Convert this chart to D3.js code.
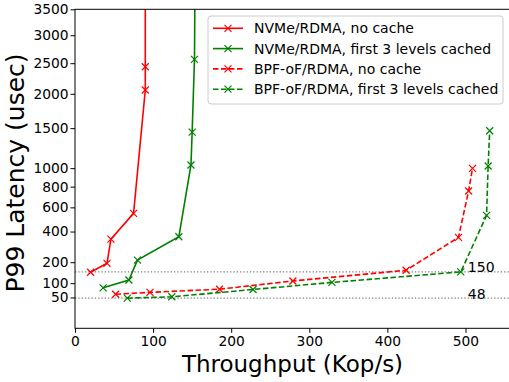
<!DOCTYPE html>
<html>
<head>
<meta charset="utf-8">
<script src="https://cdn.jsdelivr.net/npm/d3@7"></script>
<style>
  html, body { margin: 0; padding: 0; background: #fff; }
  svg { display: block; font-family: 'DejaVu Sans', sans-serif; }
</style>
</head>
<body>
<svg id="chart" width="509" height="382"></svg>
<script>
// throughput in Kop/s, latency in usec
const nvmeNoCacheX = [20, 41, 46, 75, 90, 90, 90];
const nvmeNoCacheY = [148, 194, 345, 547, 2060, 2440, 5000];
const nvmeCachedX = [36, 69, 80, 133, 148.5, 150, 153, 154];
const nvmeCachedY = [82, 113, 212, 362, 1036, 1446, 2566, 5000];
const bpfNoCacheX = [52, 96, 185, 279, 424, 491, 504, 509];
const bpfNoCacheY = [60, 66, 77, 109, 158, 357, 756, 997];
const bpfCachedX = [67, 124, 228, 329, 494, 527, 529, 531];
const bpfCachedY = [48, 52, 76, 103, 150, 530, 1024, 1465];

const seriesNames = [
  'NVMe/RDMA, no cache',
  'NVMe/RDMA, first 3 levels cached',
  'BPF-oF/RDMA, no cache',
  'BPF-oF/RDMA, first 3 levels cached'
];
const seriesColors = ['#ff0000', '#008000', '#ff0000', '#008000'];
const seriesDashed = [false, false, true, true];

const refValues = [150, 48];
const xTicks = [0, 100, 200, 300, 400, 500];
const yTicks = [50, 100, 200, 400, 600, 800, 1000, 1500, 2000, 2500, 3000, 3500];

const series = [
  [nvmeNoCacheX, nvmeNoCacheY],
  [nvmeCachedX, nvmeCachedY],
  [bpfNoCacheX, bpfNoCacheY],
  [bpfCachedX, bpfCachedY]
].map(([xs, ys], i) => ({
  name: seriesNames[i],
  color: seriesColors[i],
  dashed: seriesDashed[i],
  points: xs.map((x, j) => ({ x, y: ys[j] }))
}));

const svg = d3.select('#chart');
const margin = { left: 75, top: 9.3, bottom: 328.3, right: 510 };

const x = d3.scaleLinear().domain([0, 557]).range([margin.left, margin.right]);
const y = d3.scalePow().exponent(0.55).domain([0, 3500]).range([margin.bottom, margin.top]);

svg.append('defs').append('clipPath').attr('id', 'plotClip')
  .append('rect')
  .attr('x', margin.left)
  .attr('y', margin.top)
  .attr('width', margin.right - margin.left)
  .attr('height', margin.bottom - margin.top);

const plot = svg.append('g').attr('clip-path', 'url(#plotClip)');

// dotted reference lines
plot.selectAll('line.ref')
  .data(refValues)
  .enter()
  .append('line')
  .attr('class', 'ref')
  .attr('x1', margin.left)
  .attr('x2', margin.right)
  .attr('y1', d => y(d))
  .attr('y2', d => y(d))
  .attr('stroke', '#808080')
  .attr('stroke-width', 1.3)
  .attr('stroke-dasharray', '1.3,2');

svg.selectAll('text.ref')
  .data(refValues)
  .enter()
  .append('text')
  .attr('class', 'ref')
  .attr('x', x(503))
  .attr('y', d => y(d) + 0.5)
  .attr('font-size', 14)
  .attr('fill', '#000')
  .text(d => d);

const line = d3.line().x(d => x(d.x)).y(d => y(d.y));

const xMarker = (g, size) =>
  g.append('path')
    .attr('d', `M${-size},${-size}L${size},${size}M${-size},${size}L${size},${-size}`);

series.forEach(s => {
  plot.append('path')
    .datum(s.points)
    .attr('d', line)
    .attr('fill', 'none')
    .attr('stroke', s.color)
    .attr('stroke-width', 1.6)
    .attr('stroke-dasharray', s.dashed ? '5.5,2.5' : null);

  plot.append('g')
    .selectAll('g')
    .data(s.points)
    .enter()
    .append('g')
    .attr('transform', d => `translate(${x(d.x)},${y(d.y)})`)
    .attr('stroke', s.color)
    .attr('stroke-width', 1.2)
    .call(g => xMarker(g, 3.5));
});

// axes
const xAxis = svg.append('g')
  .attr('transform', `translate(0,${margin.bottom})`)
  .call(d3.axisBottom(x).tickValues(xTicks).tickFormat(d3.format('d'))
    .tickSize(4.5).tickPadding(3).tickSizeOuter(0));
const yAxis = svg.append('g')
  .attr('transform', `translate(${margin.left},0)`)
  .call(d3.axisLeft(y).tickValues(yTicks).tickFormat(d3.format('d'))
    .tickSize(4.5).tickPadding(2).tickSizeOuter(0));

[xAxis, yAxis].forEach(a => {
  a.selectAll('text')
    .attr('font-family', "'DejaVu Sans', sans-serif")
    .attr('font-size', 13.8)
    .attr('fill', '#000');
  a.selectAll('line').attr('stroke', '#000').attr('stroke-width', 1);
  a.select('.domain').remove();
});

// frame (right spine falls outside the picture)
svg.append('rect')
  .attr('x', margin.left)
  .attr('y', margin.top)
  .attr('width', margin.right - margin.left)
  .attr('height', margin.bottom - margin.top)
  .attr('fill', 'none')
  .attr('stroke', '#000')
  .attr('stroke-width', 1);

svg.append('text')
  .attr('x', 292.5)
  .attr('y', 372)
  .attr('text-anchor', 'middle')
  .attr('font-size', 23)
  .text('Throughput (Kop/s)');

svg.append('text')
  .attr('transform', 'translate(24,173) rotate(-90)')
  .attr('text-anchor', 'middle')
  .attr('font-size', 25)
  .text('P99 Latency (usec)');

// legend
const legend = svg.append('g').attr('transform', 'translate(208,16)');
legend.append('rect')
  .attr('width', 295)
  .attr('height', 88)
  .attr('rx', 3)
  .attr('fill', 'rgba(255,255,255,0.8)')
  .attr('stroke', '#cccccc')
  .attr('stroke-width', 1);

const items = legend.selectAll('g.item')
  .data(series)
  .enter()
  .append('g')
  .attr('class', 'item')
  .attr('transform', (d, i) => `translate(0,${12.3 + i * 20.3})`);

items.append('line')
  .attr('x1', 5)
  .attr('x2', 35)
  .attr('stroke', d => d.color)
  .attr('stroke-width', 1.6)
  .attr('stroke-dasharray', d => (d.dashed ? '5.5,2.5' : null));

items.append('g')
  .attr('transform', 'translate(20,0)')
  .attr('stroke', d => d.color)
  .attr('stroke-width', 1.2)
  .call(g => xMarker(g, 3.5));

items.append('text')
  .attr('x', 46)
  .attr('y', 5)
  .attr('font-size', 14)
  .attr('fill', '#000')
  .text(d => d.name);
</script>
</body>
</html>
